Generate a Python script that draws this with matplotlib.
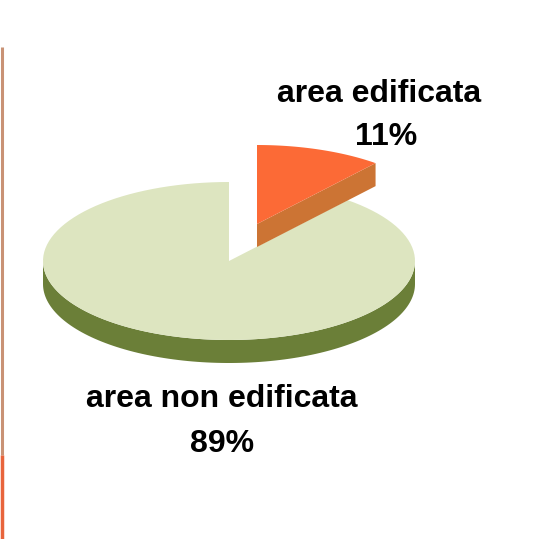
import numpy as np
import matplotlib.pyplot as plt
from matplotlib.patches import Polygon

LABELS = ["area edificata", "area non edificata"]
VALUES = [11, 89]

TOP_COLORS  = ["#fc6a36", "#dde5c0"]
SIDE_COLORS = ["#cc7434", "#6b7f38"]

# pie geometry in pixel space (y down)
CX, CY = 229, 261
RX, RY = 186, 79
DEPTH  = 23
EXPLODE = [(28, -37), (0, 0)]


def arc(cx, cy, t0, t1, n=120):
    t = np.radians(np.linspace(t0, t1, n))
    return np.column_stack([cx + RX * np.cos(t), cy - RY * np.sin(t)])


def main():
    fig = plt.figure(figsize=(5.4, 5.39), dpi=100)
    ax = fig.add_axes([0, 0, 1, 1])
    ax.set_xlim(0, 540)
    ax.set_ylim(539, 0)
    ax.axis("off")

    # left frame line
    ax.plot([2, 2], [47, 455], color="#c99275", lw=2.2, solid_capstyle="butt")
    ax.plot([2, 2], [455, 539], color="#e8643c", lw=2.5, solid_capstyle="butt")

    total = sum(VALUES)
    start = 90.0
    slices = []
    for v in VALUES:
        sweep = 360.0 * v / total
        slices.append((start - sweep, start))
        start -= sweep

    # non-exploded slice (green) first
    t0, t1 = slices[1]
    cx, cy = CX + EXPLODE[1][0], CY + EXPLODE[1][1]
    # front side: bottom half of the ellipse
    lo, hi = max(t0, -180), min(t1, 0)
    rim = arc(cx, cy, lo, hi)
    side = np.vstack([rim, (rim + [0, DEPTH])[::-1]])
    ax.add_patch(Polygon(side, closed=True, fc=SIDE_COLORS[1], ec="none"))
    top = np.vstack([[cx, cy], arc(cx, cy, t0, t1)])
    ax.add_patch(Polygon(top, closed=True, fc=TOP_COLORS[1], ec="none"))

    # exploded slice (orange)
    t0, t1 = slices[0]
    cx, cy = CX + EXPLODE[0][0], CY + EXPLODE[0][1]
    rim_pt = arc(cx, cy, t0, t0, n=1)[0]
    cut = np.array([[cx, cy], rim_pt, rim_pt + [0, DEPTH], [cx, cy + DEPTH]])
    ax.add_patch(Polygon(cut, closed=True, fc=SIDE_COLORS[0], ec="none"))
    top = np.vstack([[cx, cy], arc(cx, cy, t0, t1)])
    ax.add_patch(Polygon(top, closed=True, fc=TOP_COLORS[0], ec="none"))

    font = dict(family=["Liberation Sans", "DejaVu Sans"], weight="bold",
                fontsize=23, color="black", ha="center", va="baseline")
    pct = [f"{round(100 * v / total)}%" for v in VALUES]

    ax.text(379, 102, LABELS[0], **font)
    ax.text(386, 145, pct[0], **font)
    ax.text(222, 407, LABELS[1], **font)
    ax.text(222, 452, pct[1], **font)

    fig.savefig("out.png", dpi=100, facecolor="white")


if __name__ == "__main__":
    main()
